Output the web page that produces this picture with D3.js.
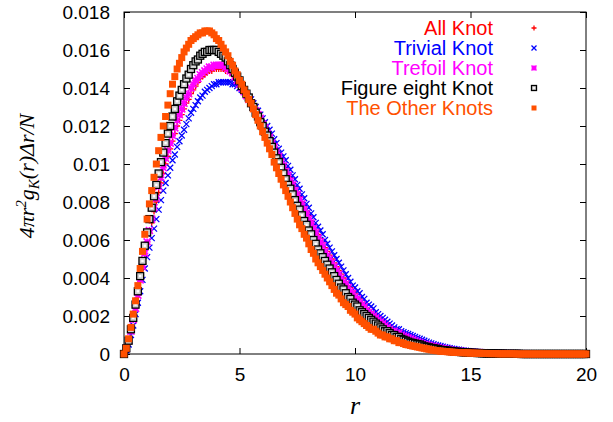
<!DOCTYPE html>
<html>
<head>
<meta charset="utf-8">
<script src="https://cdn.jsdelivr.net/npm/d3@7"></script>
<style>
  body { margin: 0; background: #fff; }
  svg { display: block; }
</style>
</head>
<body>
<div id="chart"></div>
<script>
// r grid, 0..20 in steps of 0.1
const rValues = [
  0, 0.1, 0.2, 0.3, 0.4, 0.5, 0.6, 0.7, 0.8, 0.9,
  1, 1.1, 1.2, 1.3, 1.4, 1.5, 1.6, 1.7, 1.8, 1.9,
  2, 2.1, 2.2, 2.3, 2.4, 2.5, 2.6, 2.7, 2.8, 2.9,
  3, 3.1, 3.2, 3.3, 3.4, 3.5, 3.6, 3.7, 3.8, 3.9,
  4, 4.1, 4.2, 4.3, 4.4, 4.5, 4.6, 4.7, 4.8, 4.9,
  5, 5.1, 5.2, 5.3, 5.4, 5.5, 5.6, 5.7, 5.8, 5.9,
  6, 6.1, 6.2, 6.3, 6.4, 6.5, 6.6, 6.7, 6.8, 6.9,
  7, 7.1, 7.2, 7.3, 7.4, 7.5, 7.6, 7.7, 7.8, 7.9,
  8, 8.1, 8.2, 8.3, 8.4, 8.5, 8.6, 8.7, 8.8, 8.9,
  9, 9.1, 9.2, 9.3, 9.4, 9.5, 9.6, 9.7, 9.8, 9.9,
  10, 10.1, 10.2, 10.3, 10.4, 10.5, 10.6, 10.7, 10.8, 10.9,
  11, 11.1, 11.2, 11.3, 11.4, 11.5, 11.6, 11.7, 11.8, 11.9,
  12, 12.1, 12.2, 12.3, 12.4, 12.5, 12.6, 12.7, 12.8, 12.9,
  13, 13.1, 13.2, 13.3, 13.4, 13.5, 13.6, 13.7, 13.8, 13.9,
  14, 14.1, 14.2, 14.3, 14.4, 14.5, 14.6, 14.7, 14.8, 14.9,
  15, 15.1, 15.2, 15.3, 15.4, 15.5, 15.6, 15.7, 15.8, 15.9,
  16, 16.1, 16.2, 16.3, 16.4, 16.5, 16.6, 16.7, 16.8, 16.9,
  17, 17.1, 17.2, 17.3, 17.4, 17.5, 17.6, 17.7, 17.8, 17.9,
  18, 18.1, 18.2, 18.3, 18.4, 18.5, 18.6, 18.7, 18.8, 18.9,
  19, 19.1, 19.2, 19.3, 19.4, 19.5, 19.6, 19.7, 19.8, 19.9,
  20
];

const allKnot = [
  0, 0.0003, 0.0007, 0.0012, 0.0018, 0.0024, 0.0031, 0.0038, 0.0045, 0.0052,
  0.0058, 0.0064, 0.0069, 0.0075, 0.0080, 0.0085, 0.0090, 0.0095, 0.0100, 0.0104,
  0.0108, 0.0112, 0.0116, 0.0120, 0.0123, 0.0126, 0.0129, 0.0132, 0.0134, 0.0137,
  0.0139, 0.0141, 0.0143, 0.0145, 0.0146, 0.0147, 0.0148, 0.0149, 0.0149, 0.0150,
  0.0150, 0.0150, 0.0150, 0.0150, 0.0149, 0.0149, 0.0148, 0.0147, 0.0145, 0.0144,
  0.0142, 0.0140, 0.0138, 0.0137, 0.0135, 0.0133, 0.0131, 0.0129, 0.0127, 0.0125,
  0.0122, 0.0120, 0.0118, 0.0115, 0.0113, 0.0110, 0.0108, 0.0105, 0.0103, 0.0100,
  0.0098, 0.0095, 0.0093, 0.0090, 0.0088, 0.0085, 0.0083, 0.0080, 0.0078, 0.0075,
  0.0073, 0.0070, 0.0068, 0.0065, 0.0063, 0.0061, 0.0059, 0.0056, 0.0054, 0.0052,
  0.0050, 0.0048, 0.0046, 0.0044, 0.0042, 0.0040, 0.0038, 0.0036, 0.0035, 0.0033,
  0.0032, 0.0030, 0.0029, 0.0027, 0.0026, 0.0024, 0.0023, 0.0022, 0.0021, 0.0020,
  0.0019, 0.0018, 0.0017, 0.0016, 0.0015, 0.0014, 0.0013, 0.0012, 0.0012, 0.0011,
  0.0010, 0.00095, 0.0009, 0.00085, 0.0008, 0.00075, 0.0007, 0.00065, 0.0006, 0.00058,
  0.00055, 0.00052, 0.00048, 0.00045, 0.00042, 0.00039, 0.00036, 0.00033, 0.0003, 0.00028,
  0.00026, 0.00024, 0.00022, 0.0002, 0.00018, 0.00017, 0.00015, 0.00014, 0.00013, 0.00012,
  0.00011, 0.0001, 0.00009, 0.00008, 0.00008, 0.00007, 0.00006, 0.00006, 0.00005, 0.00005,
  0.00004, 0.00004, 0.00004, 0.00003, 0.00003, 0.00003, 0.00003, 0.00002, 0.00002, 0.00002,
  0.00002, 0.00002, 0.00001, 0.00001, 0.00001, 0.00001, 0.00001, 0.00001, 0.00001, 0,
  0, 0, 0, 0, 0, 0, 0, 0, 0, 0,
  0, 0, 0, 0, 0, 0, 0, 0, 0, 0,
  0
];

const trivialKnot = [
  0, 0.0002, 0.0005, 0.0010, 0.0015, 0.0021, 0.0027, 0.0033, 0.0039, 0.0045,
  0.0051, 0.0056, 0.0061, 0.0066, 0.0071, 0.0076, 0.0081, 0.0086, 0.0090, 0.0094,
  0.0098, 0.0102, 0.0105, 0.0109, 0.0112, 0.0115, 0.0118, 0.0121, 0.0124, 0.0127,
  0.0129, 0.0131, 0.0133, 0.0135, 0.0136, 0.0138, 0.0139, 0.0140, 0.0141, 0.0142,
  0.0142, 0.0143, 0.0143, 0.0143, 0.0143, 0.0143, 0.0143, 0.0142, 0.0142, 0.0141,
  0.0140, 0.0139, 0.0138, 0.0137, 0.0135, 0.0134, 0.0132, 0.0130, 0.0128, 0.0126,
  0.0124, 0.0122, 0.0120, 0.0118, 0.0116, 0.0113, 0.0111, 0.0108, 0.0106, 0.0104,
  0.0102, 0.0099, 0.0097, 0.0094, 0.0092, 0.0089, 0.0087, 0.0084, 0.0082, 0.0079,
  0.0077, 0.0074, 0.0072, 0.0069, 0.0067, 0.0065, 0.0063, 0.0060, 0.0058, 0.0056,
  0.0054, 0.0052, 0.0050, 0.0048, 0.0046, 0.0044, 0.0042, 0.0040, 0.0038, 0.0036,
  0.0035, 0.0033, 0.0032, 0.0030, 0.0029, 0.0027, 0.0026, 0.0025, 0.0024, 0.0022,
  0.0021, 0.0020, 0.0019, 0.0018, 0.0017, 0.0016, 0.0015, 0.0014, 0.0013, 0.0013,
  0.0012, 0.00115, 0.0011, 0.00105, 0.0010, 0.00095, 0.0009, 0.00085, 0.0008, 0.00075,
  0.0007, 0.00065, 0.0006, 0.00056, 0.00052, 0.00048, 0.00045, 0.00042, 0.00039, 0.00036,
  0.00033, 0.0003, 0.00028, 0.00026, 0.00024, 0.00022, 0.0002, 0.00018, 0.00017, 0.00015,
  0.00014, 0.00013, 0.00012, 0.00011, 0.0001, 0.00009, 0.00008, 0.00008, 0.00007, 0.00007,
  0.00006, 0.00006, 0.00005, 0.00005, 0.00004, 0.00004, 0.00003, 0.00003, 0.00003, 0.00003,
  0.00002, 0.00002, 0.00002, 0.00002, 0.00001, 0.00001, 0.00001, 0.00001, 0.00001, 0.00001,
  0.00001, 0.00001, 0, 0, 0, 0, 0, 0, 0, 0,
  0, 0, 0, 0, 0, 0, 0, 0, 0, 0,
  0
];

const trefoilKnot = [
  0, 0.0003, 0.0007, 0.0012, 0.0018, 0.0024, 0.0031, 0.0039, 0.0046, 0.0053,
  0.0059, 0.0065, 0.0071, 0.0077, 0.0082, 0.0088, 0.0093, 0.0098, 0.0103, 0.0107,
  0.0111, 0.0115, 0.0119, 0.0123, 0.0126, 0.0129, 0.0132, 0.0135, 0.0137, 0.0140,
  0.0142, 0.0144, 0.0145, 0.0147, 0.0148, 0.0149, 0.0150, 0.0151, 0.0151, 0.0152,
  0.0152, 0.0152, 0.0152, 0.0152, 0.0151, 0.0150, 0.0149, 0.0148, 0.0146, 0.0144,
  0.0142, 0.0140, 0.0138, 0.0136, 0.0134, 0.0132, 0.0130, 0.0128, 0.0126, 0.0124,
  0.0121, 0.0119, 0.0116, 0.0114, 0.0111, 0.0109, 0.0106, 0.0104, 0.0101, 0.0099,
  0.0096, 0.0094, 0.0091, 0.0089, 0.0086, 0.0084, 0.0081, 0.0079, 0.0076, 0.0074,
  0.0071, 0.0069, 0.0066, 0.0064, 0.0061, 0.0059, 0.0057, 0.0054, 0.0052, 0.0050,
  0.0048, 0.0046, 0.0044, 0.0042, 0.0040, 0.0038, 0.0037, 0.0035, 0.0033, 0.0032,
  0.0030, 0.0029, 0.0027, 0.0026, 0.0025, 0.0023, 0.0022, 0.0021, 0.0020, 0.0019,
  0.0018, 0.0017, 0.0016, 0.0015, 0.0014, 0.0013, 0.0012, 0.0012, 0.0011, 0.0011,
  0.0010, 0.00095, 0.0009, 0.00085, 0.0008, 0.00075, 0.0007, 0.00065, 0.0006, 0.00055,
  0.0005, 0.00048, 0.00045, 0.00042, 0.0004, 0.00037, 0.00033, 0.0003, 0.00028, 0.00026,
  0.00024, 0.00022, 0.0002, 0.00018, 0.00017, 0.00015, 0.00014, 0.00013, 0.00012, 0.00011,
  0.0001, 0.00009, 0.00008, 0.00008, 0.00007, 0.00006, 0.00006, 0.00005, 0.00005, 0.00004,
  0.00004, 0.00004, 0.00003, 0.00003, 0.00003, 0.00002, 0.00002, 0.00002, 0.00002, 0.00002,
  0.00002, 0.00001, 0.00001, 0.00001, 0.00001, 0.00001, 0, 0, 0, 0,
  0, 0, 0, 0, 0, 0, 0, 0, 0, 0,
  0, 0, 0, 0, 0, 0, 0, 0, 0, 0,
  0
];

const figureEightKnot = [
  0, 0.0003, 0.0007, 0.0013, 0.0019, 0.0026, 0.0033, 0.0041, 0.0049, 0.0057,
  0.0064, 0.0071, 0.0077, 0.0083, 0.0089, 0.0095, 0.0101, 0.0106, 0.0111, 0.0116,
  0.0120, 0.0125, 0.0129, 0.0133, 0.0136, 0.0139, 0.0142, 0.0145, 0.0147, 0.0150,
  0.0152, 0.0154, 0.0155, 0.0157, 0.0158, 0.0159, 0.0159, 0.0160, 0.0160, 0.0160,
  0.0160, 0.0159, 0.0158, 0.0157, 0.0156, 0.0154, 0.0152, 0.0150, 0.0148, 0.0146,
  0.0144, 0.0141, 0.0139, 0.0137, 0.0135, 0.0132, 0.0130, 0.0127, 0.0125, 0.0122,
  0.0120, 0.0117, 0.0115, 0.0112, 0.0109, 0.0106, 0.0103, 0.0101, 0.0098, 0.0095,
  0.0092, 0.0089, 0.0087, 0.0084, 0.0081, 0.0078, 0.0076, 0.0073, 0.0070, 0.0068,
  0.0065, 0.0063, 0.0060, 0.0058, 0.0055, 0.0053, 0.0051, 0.0049, 0.0047, 0.0045,
  0.0043, 0.0041, 0.0039, 0.0037, 0.0035, 0.0034, 0.0032, 0.0030, 0.0029, 0.0027,
  0.0026, 0.0025, 0.0023, 0.0022, 0.0021, 0.0020, 0.0019, 0.0018, 0.0017, 0.0016,
  0.0015, 0.0014, 0.0013, 0.0012, 0.0012, 0.0011, 0.0010, 0.0010, 0.0009, 0.0009,
  0.0008, 0.00075, 0.0007, 0.00065, 0.0006, 0.00058, 0.00055, 0.00052, 0.0005, 0.00045,
  0.0004, 0.00038, 0.00035, 0.00032, 0.0003, 0.00028, 0.00025, 0.00022, 0.0002, 0.00019,
  0.00018, 0.00016, 0.00015, 0.00013, 0.00012, 0.00011, 0.0001, 0.00009, 0.00008, 0.00008,
  0.00007, 0.00006, 0.00006, 0.00005, 0.00005, 0.00004, 0.00004, 0.00003, 0.00003, 0.00003,
  0.00003, 0.00002, 0.00002, 0.00002, 0.00002, 0.00001, 0.00001, 0.00001, 0.00001, 0.00001,
  0.00001, 0.00001, 0, 0, 0, 0, 0, 0, 0, 0,
  0, 0, 0, 0, 0, 0, 0, 0, 0, 0,
  0, 0, 0, 0, 0, 0, 0, 0, 0, 0,
  0
];

const otherKnots = [
  0, 0.0003, 0.0008, 0.0014, 0.0021, 0.0028, 0.0036, 0.0045, 0.0054, 0.0063,
  0.0071, 0.0079, 0.0086, 0.0093, 0.0100, 0.0107, 0.0114, 0.0120, 0.0125, 0.0131,
  0.0137, 0.0142, 0.0146, 0.0150, 0.0153, 0.0156, 0.0159, 0.0161, 0.0163, 0.0165,
  0.0166, 0.0167, 0.0168, 0.0169, 0.0169, 0.0170, 0.0170, 0.0170, 0.0169, 0.0168,
  0.0166, 0.0165, 0.0163, 0.0161, 0.0159, 0.0157, 0.0154, 0.0152, 0.0149, 0.0147,
  0.0144, 0.0142, 0.0139, 0.0137, 0.0134, 0.0132, 0.0129, 0.0126, 0.0123, 0.0120,
  0.0117, 0.0114, 0.0111, 0.0108, 0.0105, 0.0101, 0.0098, 0.0095, 0.0092, 0.0089,
  0.0086, 0.0083, 0.0080, 0.0077, 0.0074, 0.0071, 0.0068, 0.0066, 0.0063, 0.0061,
  0.0058, 0.0055, 0.0053, 0.0050, 0.0048, 0.0046, 0.0044, 0.0042, 0.0040, 0.0038,
  0.0036, 0.0034, 0.0032, 0.0031, 0.0029, 0.0027, 0.0026, 0.0025, 0.0023, 0.0022,
  0.0021, 0.0019, 0.0018, 0.0017, 0.0016, 0.0015, 0.0014, 0.0013, 0.0013, 0.0012,
  0.0011, 0.0010, 0.0010, 0.0009, 0.0009, 0.0008, 0.0008, 0.0007, 0.0007, 0.0006,
  0.0006, 0.00055, 0.0005, 0.00048, 0.00045, 0.00042, 0.0004, 0.00037, 0.00035, 0.00032,
  0.0003, 0.00027, 0.00025, 0.00022, 0.0002, 0.00018, 0.00017, 0.00015, 0.00014, 0.00013,
  0.00012, 0.00011, 0.0001, 0.00009, 0.00008, 0.00008, 0.00007, 0.00007, 0.00006, 0.00006,
  0.00005, 0.00005, 0.00004, 0.00004, 0.00004, 0.00003, 0.00003, 0.00003, 0.00002, 0.00002,
  0.00002, 0.00002, 0.00001, 0.00001, 0.00001, 0.00001, 0.00001, 0.00001, 0.00001, 0.00001,
  0, 0, 0, 0, 0, 0, 0, 0, 0, 0,
  0, 0, 0, 0, 0, 0, 0, 0, 0, 0,
  0, 0, 0, 0, 0, 0, 0, 0, 0, 0,
  0
];

const xTicks = [0, 5, 10, 15, 20];
const yTicks = [0, 0.002, 0.004, 0.006, 0.008, 0.01, 0.012, 0.014, 0.016, 0.018];
const yTickLabels = ["0", "0.002", "0.004", "0.006", "0.008", "0.01", "0.012", "0.014", "0.016", "0.018"];

const seriesNames = ["All Knot", "Trivial Knot", "Trefoil Knot", "Figure eight Knot", "The Other Knots"];
const seriesValues = [allKnot, trivialKnot, trefoilKnot, figureEightKnot, otherKnots];
const seriesColors = ["#ff0000", "#0000ff", "#ff00ff", "#000000", "#ff5000"];
const seriesMarks = ["plus", "cross", "star", "openSquare", "filledSquare"];

const width = 613, height = 422;
const plot = {left: 124, right: 586, top: 12, bottom: 354};
const sansFont = "'Liberation Sans', Arial, sans-serif";
const serifFont = "'Liberation Serif', 'Times New Roman', serif";

const svg = d3.select("#chart").append("svg")
    .attr("width", width)
    .attr("height", height)
    .style("font-family", sansFont);

const x = d3.scaleLinear().domain([0, 20]).range([plot.left, plot.right]);
const y = d3.scaleLinear().domain([0, 0.018]).range([plot.bottom, plot.top]);

// frame
svg.append("rect")
    .attr("x", plot.left).attr("y", plot.top)
    .attr("width", plot.right - plot.left).attr("height", plot.bottom - plot.top)
    .attr("fill", "none").attr("stroke", "#000").attr("stroke-width", 1);

// axes, ticks pointing inward and mirrored on the opposite side
const tickLen = 6;
svg.append("g").attr("transform", `translate(0,${plot.bottom})`)
    .call(d3.axisBottom(x).tickValues(xTicks).tickSizeInner(-tickLen).tickSizeOuter(0).tickPadding(14))
    .call(g => g.select(".domain").remove())
    .call(g => g.selectAll("text").attr("font-size", 19).attr("font-family", sansFont));
svg.append("g").attr("transform", `translate(0,${plot.top})`)
    .call(d3.axisTop(x).tickValues(xTicks).tickSizeInner(-tickLen).tickSizeOuter(0).tickFormat(""))
    .call(g => g.select(".domain").remove());
svg.append("g").attr("transform", `translate(${plot.left},0)`)
    .call(d3.axisLeft(y).tickValues(yTicks).tickSizeInner(-tickLen).tickSizeOuter(0).tickPadding(14)
        .tickFormat((d, i) => yTickLabels[i]))
    .call(g => g.select(".domain").remove())
    .call(g => g.selectAll("text").attr("font-size", 19).attr("font-family", sansFont));
svg.append("g").attr("transform", `translate(${plot.right},0)`)
    .call(d3.axisRight(y).tickValues(yTicks).tickSizeInner(-tickLen).tickSizeOuter(0).tickFormat(""))
    .call(g => g.select(".domain").remove());

// point symbols (gnuplot style 1..5)
function drawMark(g, kind, color, s) {
    const h = s / 2;
    if (kind === "plus") {
        g.append("path").attr("d", `M${-h},0H${h}M0,${-h}V${h}`)
            .attr("stroke", color).attr("stroke-width", 1.3).attr("fill", "none");
    } else if (kind === "cross") {
        g.append("path").attr("d", `M${-h},${-h}L${h},${h}M${-h},${h}L${h},${-h}`)
            .attr("stroke", color).attr("stroke-width", 1.3).attr("fill", "none");
    } else if (kind === "star") {
        g.append("path").attr("d", `M${-h},0H${h}M0,${-h}V${h}M${-h},${-h}L${h},${h}M${-h},${h}L${h},${-h}`)
            .attr("stroke", color).attr("stroke-width", 1.6).attr("fill", "none");
    } else if (kind === "openSquare") {
        g.append("rect").attr("x", -h).attr("y", -h).attr("width", s).attr("height", s)
            .attr("stroke", color).attr("stroke-width", 1.3).attr("fill", "#cfcfcf");
        g.append("rect").attr("x", -h / 3).attr("y", -h / 3).attr("width", s / 3).attr("height", s / 3)
            .attr("fill", "#fff");
    } else if (kind === "filledSquare") {
        g.append("rect").attr("x", -h).attr("y", -h).attr("width", s).attr("height", s)
            .attr("fill", color);
    }
}

const markSizes = [6, 6, 7, 7, 7];

seriesValues.forEach((vals, si) => {
    const g = svg.append("g").attr("class", "series");
    vals.forEach((v, i) => {
        const m = g.append("g").attr("transform", `translate(${x(rValues[i])},${y(v)})`);
        drawMark(m, seriesMarks[si], seriesColors[si], markSizes[si]);
    });
});

// legend
const legend = svg.append("g");
seriesNames.forEach((name, i) => {
    const ly = 28 + i * 20;
    legend.append("text")
        .attr("x", 493).attr("y", ly).attr("dy", "0.35em")
        .attr("text-anchor", "end").attr("font-size", 20)
        .attr("fill", seriesColors[i])
        .text(name);
    const m = legend.append("g").attr("transform", `translate(534,${ly})`);
    drawMark(m, seriesMarks[i], seriesColors[i], 5);
});

// axis titles
svg.append("text")
    .attr("x", (plot.left + plot.right) / 2).attr("y", 414)
    .attr("text-anchor", "middle")
    .attr("font-family", serifFont)
    .attr("font-style", "italic").attr("font-size", 26)
    .text("r");

const yl = svg.append("text")
    .attr("transform", `translate(34,176) rotate(-90)`)
    .attr("text-anchor", "middle")
    .attr("font-family", serifFont)
    .attr("font-style", "italic").attr("font-size", 22);
yl.append("tspan").text("4πr");
yl.append("tspan").attr("dy", -8).attr("font-size", 15).text("2");
yl.append("tspan").attr("dy", 8).text("g");
yl.append("tspan").attr("dy", 5).attr("font-size", 15).text("K");
yl.append("tspan").attr("dy", -5).text("(r)Δr/N");
</script>
</body>
</html>
